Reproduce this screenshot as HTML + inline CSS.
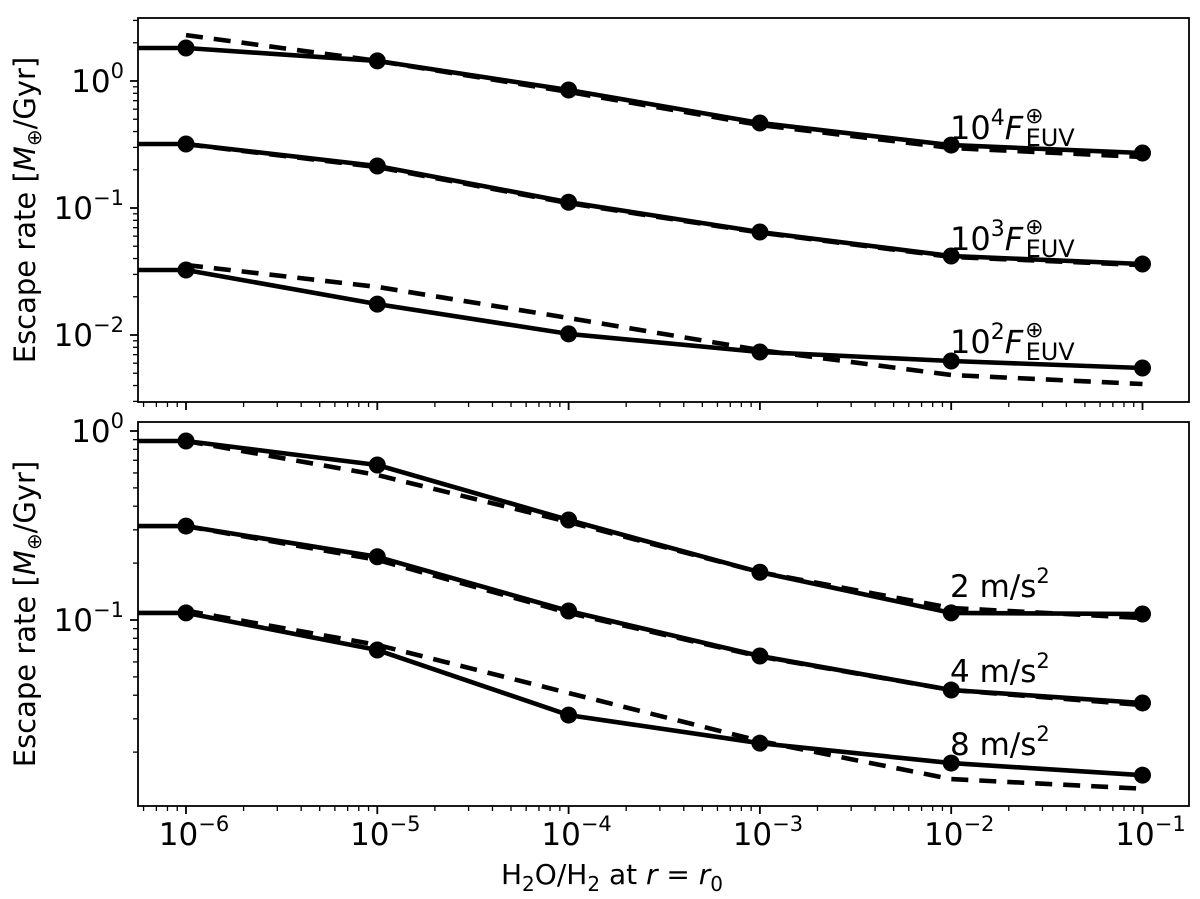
<!DOCTYPE html>
<html><head><meta charset="utf-8"><style>
html,body{margin:0;padding:0;background:#fff;}
svg{display:block;font-family:"DejaVu Sans","Liberation Sans",sans-serif;}
</style></head><body>
<svg id="chart" width="1200" height="899" viewBox="0 0 1200 899" xmlns="http://www.w3.org/2000/svg"></svg>
<script>
// ---- data ----
const xValues = [1e-6, 1e-5, 1e-4, 1e-3, 1e-2, 1e-1];
const xTickLabels = ["-6","-5","-4","-3","-2","-1"];
// top panel (FUV flux)
const fuv4Solid = [1.82, 1.44, 0.85, 0.467, 0.313, 0.271];
const fuv4Dashed = [2.30, 1.44, 0.82, 0.45, 0.297, 0.252];
const fuv3Solid = [0.319, 0.214, 0.111, 0.0647, 0.0419, 0.0362];
const fuv3Dashed = [0.318, 0.210, 0.109, 0.0640, 0.0412, 0.0355];
const fuv2Solid = [0.0325, 0.0175, 0.0102, 0.00735, 0.00624, 0.0055];
const fuv2Dashed = [0.0356, 0.0239, 0.0136, 0.0076, 0.00484, 0.00411];
// bottom panel (gravity)
const g2Solid = [0.885, 0.661, 0.338, 0.179, 0.109, 0.1076];
const g2Dashed = [0.885, 0.585, 0.330, 0.179, 0.1157, 0.1025];
const g4Solid = [0.314, 0.216, 0.1116, 0.0645, 0.0426, 0.0364];
const g4Dashed = [0.314, 0.208, 0.109, 0.0640, 0.0426, 0.0355];
const g8Solid = [0.109, 0.0694, 0.0314, 0.0223, 0.0175, 0.0151];
const g8Dashed = [0.112, 0.0738, 0.0411, 0.0229, 0.0144, 0.0128];
const topYTicks = [0, -1, -2];
const botYTicks = [0, -1];

const NS = "http://www.w3.org/2000/svg";
const svg = document.getElementById("chart");
function mk(tag, attrs, parent) {
  const e = document.createElementNS(NS, tag);
  for (const k in attrs) e.setAttribute(k, attrs[k]);
  (parent || svg).appendChild(e);
  return e;
}
const L = 138, R = 1189;
const xPx = v => 186 + (Math.log10(v) + 6) * 191.3;

function panel(name, top, bottom, y0px, pxPerDec, yTicks, series, labels, showX) {
  const yPx = v => y0px - Math.log10(v) * pxPerDec;
  const g = mk("g", {});
  
  
  const clipId = name + "-clip";
  const cp = mk("clipPath", {id: clipId}, g);
  mk("rect", {x: L, y: top, width: R - L, height: bottom - top}, cp);
  const plot = mk("g", {"clip-path": "url(#" + clipId + ")"}, g);
  
  
  series.forEach(s => {
    let d = "";
    if (!s.dashed) d += "M" + (L - 5) + "," + yPx(s.vals[0]).toFixed(1) + " L";
    else d += "M";
    d += s.vals.map((v, i) => xPx(xValues[i]).toFixed(1) + "," + yPx(v).toFixed(1)).join(" L");
    const p = mk("path", {d: d, fill: "none", stroke: "#000", "stroke-width": 4.6,
      "stroke-dasharray": s.dashed ? "17,11" : "none", "stroke-linejoin": "round"}, plot);
    
    
    if (!s.dashed) {
      s.vals.forEach((v, i) => {
        const c = mk("circle", {cx: xPx(xValues[i]), cy: yPx(v), r: 8.5, fill: "#000"}, plot);
        
        
      });
    }
  });
  const fr = mk("rect", {x: L, y: top, width: R - L, height: bottom - top, fill: "none", stroke: "#000", "stroke-width": 1.8}, g);
  
  
  const lo = Math.floor(-(bottom - y0px) / pxPerDec) - 1;
  for (let dec = lo; dec <= 1; dec++) {
    for (let m = 1; m < 10; m++) {
      const y = y0px - (dec + Math.log10(m)) * pxPerDec;
      if (y < top - 0.5 || y > bottom + 0.5) continue;
      mk("line", {x1: L, x2: L - (m === 1 ? 8 : 5), y1: y, y2: y, stroke: "#000", "stroke-width": m === 1 ? 1.8 : 1.3}, g);
    }
  }
  yTicks.forEach(t => {
    const y = y0px - t * pxPerDec;
    const tx = mk("text", {x: 124, y: y + 11, "text-anchor": "end", "font-size": 31}, g);
    
    
    mk("tspan", {}, tx).textContent = "10";
    mk("tspan", {dy: -14, "font-size": 21}, tx).textContent = t === 0 ? "0" : "\u2212" + (-t);
  });
  for (let dec = -7; dec <= 0; dec++) {
    for (let m = 1; m < 10; m++) {
      const x = 186 + (dec + Math.log10(m) + 6) * 191.3;
      if (x < L - 0.5 || x > R + 0.5) continue;
      mk("line", {x1: x, x2: x, y1: bottom, y2: bottom + (m === 1 ? 8 : 5), stroke: "#000", "stroke-width": m === 1 ? 1.8 : 1.3}, g);
    }
  }
  if (showX) {
    xTickLabels.forEach((lab, i) => {
      const x = xPx(xValues[i]);
      const tx = mk("text", {x: x + 8, y: 845, "text-anchor": "middle", "font-size": 31}, g);
      
      
      mk("tspan", {}, tx).textContent = "10";
      mk("tspan", {dy: -14, "font-size": 21}, tx).textContent = "\u2212" + lab.slice(1);
    });
  }
  const yt = mk("text", {x: 0, y: 0, "text-anchor": "middle", "font-size": 29,
    transform: "translate(35," + ((top + bottom) / 2) + ") rotate(-90)"}, g);
  
  
  mk("tspan", {}, yt).textContent = "Escape rate [";
  mk("tspan", {"font-style": "italic"}, yt).textContent = "M";
  mk("tspan", {"font-size": 20, dy: 6}, yt).textContent = "\u2295";
  mk("tspan", {dy: -6}, yt).textContent = "/Gyr]";
  labels.forEach(lb => lb(g));
}

function fuvLabel(exp, baseY) {
  return g => {
    const t = mk("text", {x: 950, y: baseY, "font-size": 32}, g);
    
    
    mk("tspan", {}, t).textContent = "10";
    mk("tspan", {dy: -14, "font-size": 22}, t).textContent = exp;
    mk("tspan", {dy: 14, "font-style": "italic"}, t).textContent = "F";
    mk("tspan", {dy: -16, "font-size": 22, dx: 2}, t).textContent = "\u2295";
    mk("tspan", {dy: 23, dx: -18, "font-size": 24}, t).textContent = "EUV";
  };
}
function gLabel(v, baseY) {
  return g => {
    const t = mk("text", {x: 950, y: baseY, "font-size": 31}, g);
    
    
    mk("tspan", {}, t).textContent = v + " m/s";
    mk("tspan", {dy: -14, "font-size": 21}, t).textContent = "2";
  };
}

panel("top-panel", 18, 402, 81, 127, topYTicks, [
  {name: "fuv-1e4", vals: fuv4Dashed, dashed: true},
  {name: "fuv-1e4", vals: fuv4Solid},
  {name: "fuv-1e3", vals: fuv3Dashed, dashed: true},
  {name: "fuv-1e3", vals: fuv3Solid},
  {name: "fuv-1e2", vals: fuv2Dashed, dashed: true},
  {name: "fuv-1e2", vals: fuv2Solid}
], [fuvLabel("4", 139), fuvLabel("3", 250), fuvLabel("2", 353)], false);

panel("bottom-panel", 422, 806, 431, 189, botYTicks, [
  {name: "g-2", vals: g2Dashed, dashed: true},
  {name: "g-2", vals: g2Solid},
  {name: "g-4", vals: g4Dashed, dashed: true},
  {name: "g-4", vals: g4Solid},
  {name: "g-8", vals: g8Dashed, dashed: true},
  {name: "g-8", vals: g8Solid}
], [gLabel("2", 597), gLabel("4", 682), gLabel("8", 755)], true);

const xt = mk("text", {x: 612, y: 884, "text-anchor": "middle", "font-size": 28});


mk("tspan", {}, xt).textContent = "H";
mk("tspan", {dy: 7, "font-size": 20}, xt).textContent = "2";
mk("tspan", {dy: -7}, xt).textContent = "O/H";
mk("tspan", {dy: 7, "font-size": 20}, xt).textContent = "2";
mk("tspan", {dy: -7}, xt).textContent = " at ";
mk("tspan", {"font-style": "italic"}, xt).textContent = "r";
mk("tspan", {}, xt).textContent = " = ";
mk("tspan", {"font-style": "italic"}, xt).textContent = "r";
mk("tspan", {dy: 7, "font-size": 20}, xt).textContent = "0";
</script>
</body></html>
